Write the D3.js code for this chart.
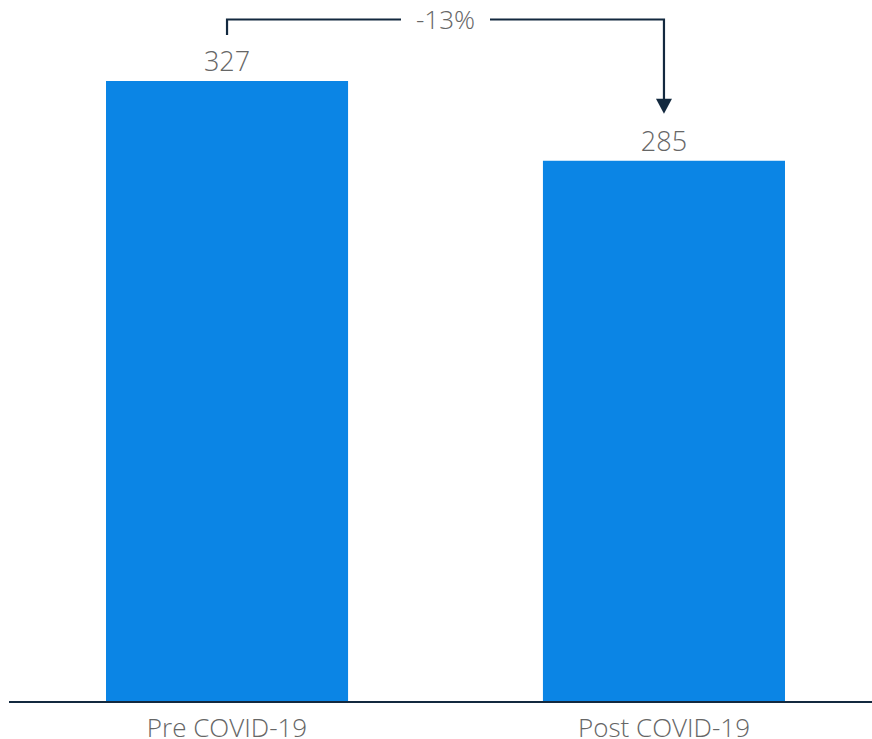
<!DOCTYPE html>
<html>
<head>
<meta charset="utf-8">
<script src="https://cdn.jsdelivr.net/npm/d3@7"></script>
<style>
  html, body { margin: 0; padding: 0; background: #fff; }
  svg { display: block; }
  text { font-family: "Open Sans", "Noto Sans", sans-serif; font-weight: 300; fill: #666; }
</style>
</head>
<body>
<svg id="chart" width="872" height="739"></svg>
<script>
// Average values before and after COVID-19
const categories = ["Pre COVID-19", "Post COVID-19"];
const values = [327, 285];
const changeLabel = "-13%";

const W = 872, H = 739;
const svg = d3.select("#chart");

const x = d3.scaleBand()
  .domain(categories)
  .range([106, 785])
  .paddingInner(0.446)
  .paddingOuter(0);

const y = d3.scaleLinear()
  .domain([0, 327])
  .range([702, 81]);

const barColor = "#0b85e5";
const navy = "#13293f";

// bars
svg.append("g").selectAll("rect")
  .data(categories)
  .join("rect")
  .attr("x", d => x(d))
  .attr("width", x.bandwidth())
  .attr("y", (d, i) => y(values[i]))
  .attr("height", (d, i) => y(0) - y(values[i]))
  .attr("fill", barColor);

// value labels
svg.append("g").selectAll("text")
  .data(categories)
  .join("text")
  .attr("x", d => x(d) + x.bandwidth() / 2)
  .attr("y", (d, i) => y(values[i]) - 10)
  .attr("text-anchor", "middle")
  .style("font-size", "27px")
  .text((d, i) => values[i]);

// baseline axis
const axis = svg.append("g")
  .attr("transform", `translate(0,${y(0)})`)
  .call(d3.axisBottom(x).tickSize(0).tickPadding(0));
axis.select(".domain").remove();
axis.append("line")
  .attr("x1", 9).attr("x2", W)
  .attr("y1", 0).attr("y2", 0)
  .attr("stroke", navy)
  .attr("stroke-width", 2);
axis.selectAll(".tick text")
  .attr("y", 34.5)
  .attr("dy", 0)
  .style("font-size", "26px")
  .style("font-family", "'Open Sans', 'Noto Sans', sans-serif")
  .style("font-weight", 300)
  .attr("fill", "#666");

// change annotation: bracket from first bar to an arrow above the second
const cx0 = x(categories[0]) + x.bandwidth() / 2;
const cx1 = x(categories[1]) + x.bandwidth() / 2;
const topY = 19.5;
const leftEnd = y(values[0]) - 46;
const arrowTip = y(values[1]) - 47;
const midX = (cx0 + cx1) / 2;
const gapHalf = 44.5;

const ann = svg.append("g")
  .attr("fill", "none")
  .attr("stroke", navy)
  .attr("stroke-width", 2.2);

ann.append("path")
  .attr("d", `M${cx0},${leftEnd} V${topY} H${midX - gapHalf}`);
ann.append("path")
  .attr("d", `M${midX + gapHalf},${topY} H${cx1} V${arrowTip - 12}`);

svg.append("path")
  .attr("d", `M${cx1 - 8},${arrowTip - 15} L${cx1 + 8},${arrowTip - 15} L${cx1},${arrowTip} Z`)
  .attr("fill", navy);

svg.append("text")
  .attr("x", midX)
  .attr("y", topY + 9.5)
  .attr("text-anchor", "middle")
  .style("font-size", "26px")
  .text(changeLabel);
</script>
</body>
</html>
